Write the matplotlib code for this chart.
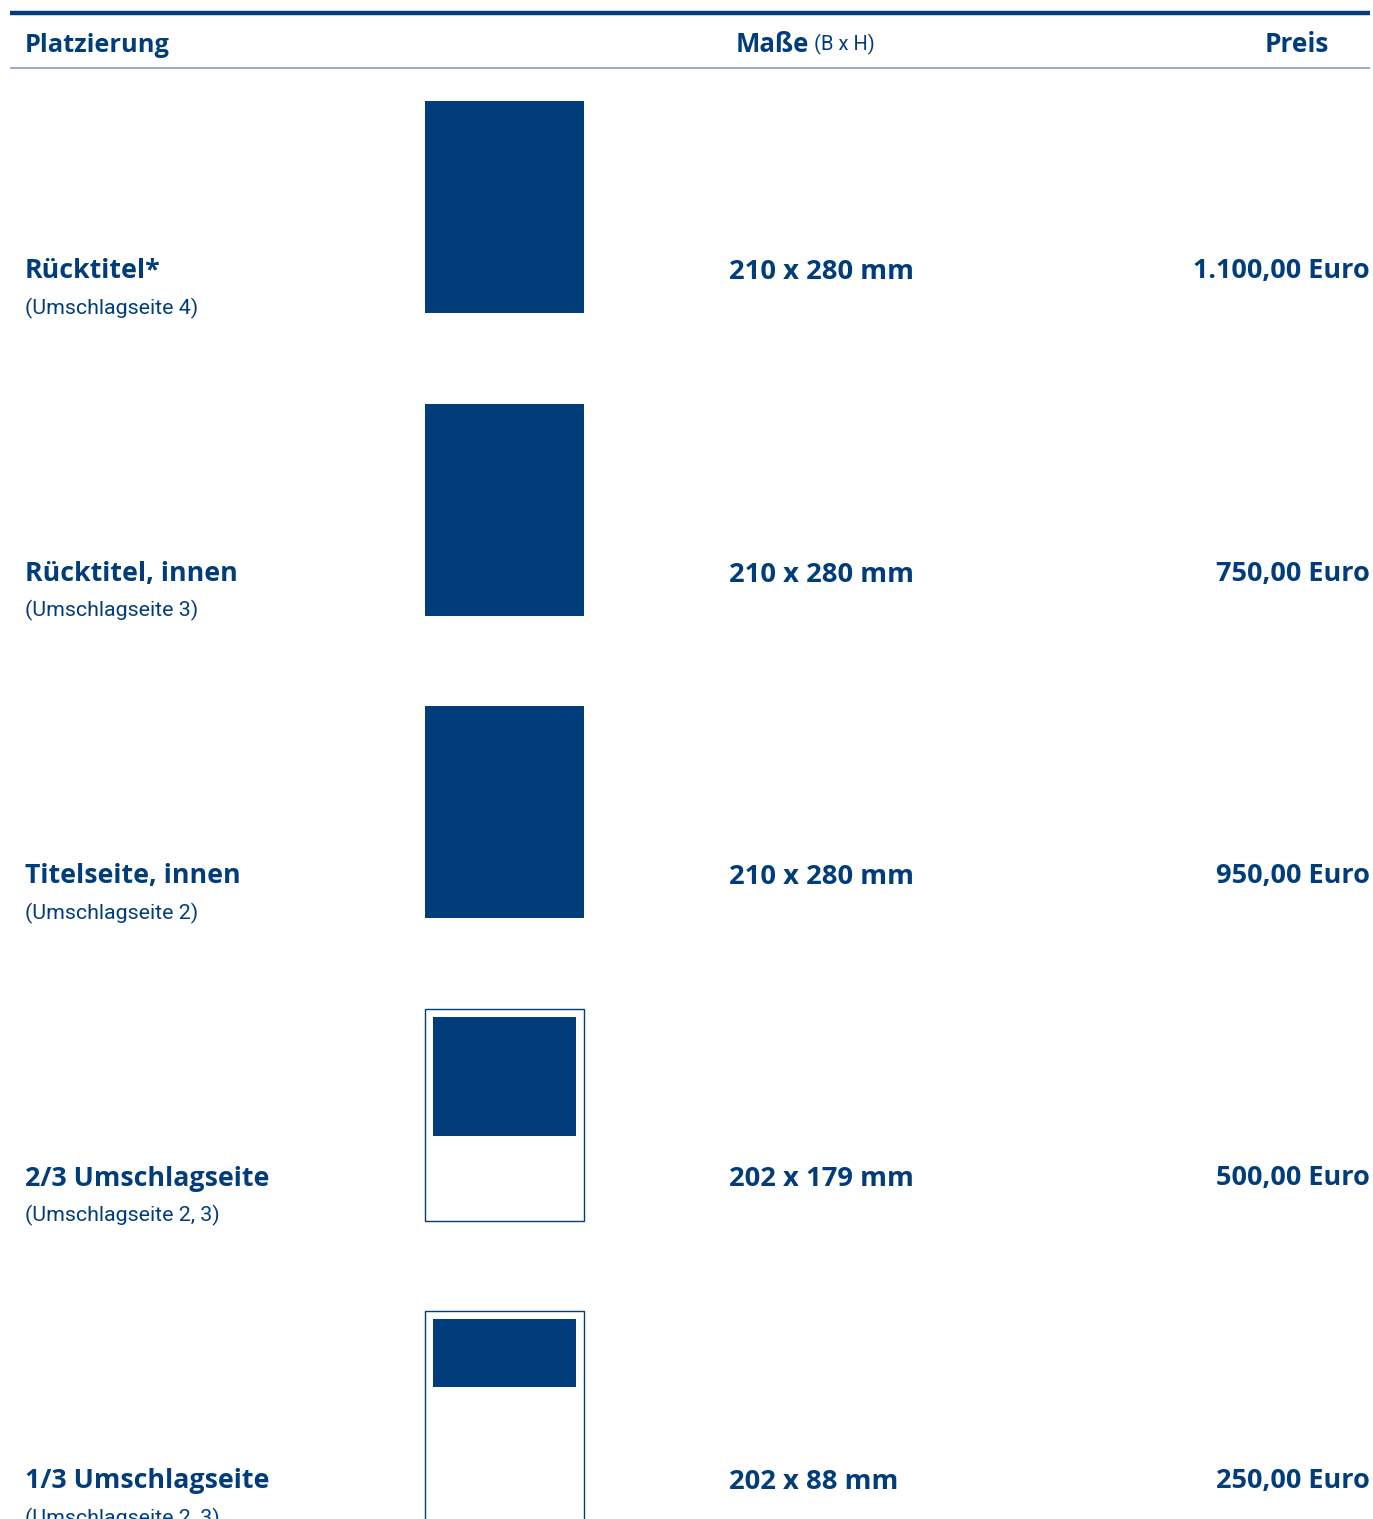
import matplotlib.pyplot as plt
from matplotlib.patches import Rectangle

BLUE = "#023d7b"
LIGHT = "#7f9dbd"

placements = ["Rücktitel*", "Rücktitel, innen", "Titelseite, innen",
              "2/3 Umschlagseite", "1/3 Umschlagseite"]
subtitles = ["(Umschlagseite 4)", "(Umschlagseite 3)", "(Umschlagseite 2)",
             "(Umschlagseite 2, 3)", "(Umschlagseite 2, 3)"]
widths_mm = [210, 210, 210, 202, 202]
heights_mm = [280, 280, 280, 179, 88]
prices = ["1.100,00 Euro", "750,00 Euro", "950,00 Euro", "500,00 Euro", "250,00 Euro"]
full_page = [True, True, True, False, False]

W, H = 1373, 1519
fig = plt.figure(figsize=(W / 100, H / 100), dpi=100)
ax = fig.add_axes([0, 0, 1, 1])
ax.set_xlim(0, W)
ax.set_ylim(H, 0)
ax.axis("off")

bold = "Open Sans"
reg = "Roboto"

# header
ax.plot([10, 1370], [12.5, 12.5], color=BLUE, lw=3.2, solid_capstyle="butt")
ax.plot([10, 1370], [68, 68], color=LIGHT, lw=1.2, solid_capstyle="butt")
ax.text(25, 45, "Platzierung", color=BLUE, fontsize=18.3, fontweight="bold",
        family=bold, va="center", ha="left")
t = ax.text(736, 45, "Maße", color=BLUE, fontsize=18.5, fontweight="bold",
            family=bold, va="center", ha="left")
ax.annotate(" (B x H)", xycoords=t, xy=(1, 0.12), va="bottom", ha="left",
            color=BLUE, fontsize=14.5, family=reg, fontstretch="condensed")
ax.text(1329, 45, "Preis", color=BLUE, fontsize=19, fontweight="bold",
        family=bold, va="center", ha="right")

pitch = 302.5
thumb_x, thumb_w, thumb_h = 425, 159, 212
inset = 8
for i, name in enumerate(placements):
    top = 101 + i * pitch
    if full_page[i]:
        ax.add_patch(Rectangle((thumb_x, top), thumb_w, thumb_h,
                               facecolor=BLUE, edgecolor="none"))
    else:
        ax.add_patch(Rectangle((thumb_x, top), thumb_w, thumb_h,
                               facecolor="white", edgecolor=BLUE, lw=1.0))
        # inner ad area scaled from the ad height in mm
        inner_h = heights_mm[i] * 0.571 + 17.7
        ax.add_patch(Rectangle((thumb_x + inset, top + inset), thumb_w - 2 * inset,
                               inner_h, facecolor=BLUE, edgecolor="none"))

    row_y = top + 170
    ax.text(25, row_y, name, color=BLUE, fontsize=19.3, fontweight="bold",
            family=bold, va="center", ha="left")
    ax.text(25, row_y + 37, subtitles[i], color=BLUE, fontsize=15.4,
            family=reg, va="center", ha="left")
    ax.text(729, row_y + 1, f"{widths_mm[i]} x {heights_mm[i]} mm", color=BLUE,
            fontsize=19.7, fontweight="bold", family=bold, va="center", ha="left")
    ax.text(1370, row_y, prices[i], color=BLUE, fontsize=19.5, fontweight="bold",
            family=bold, va="center", ha="right")

fig.savefig("out.png", dpi=100)
